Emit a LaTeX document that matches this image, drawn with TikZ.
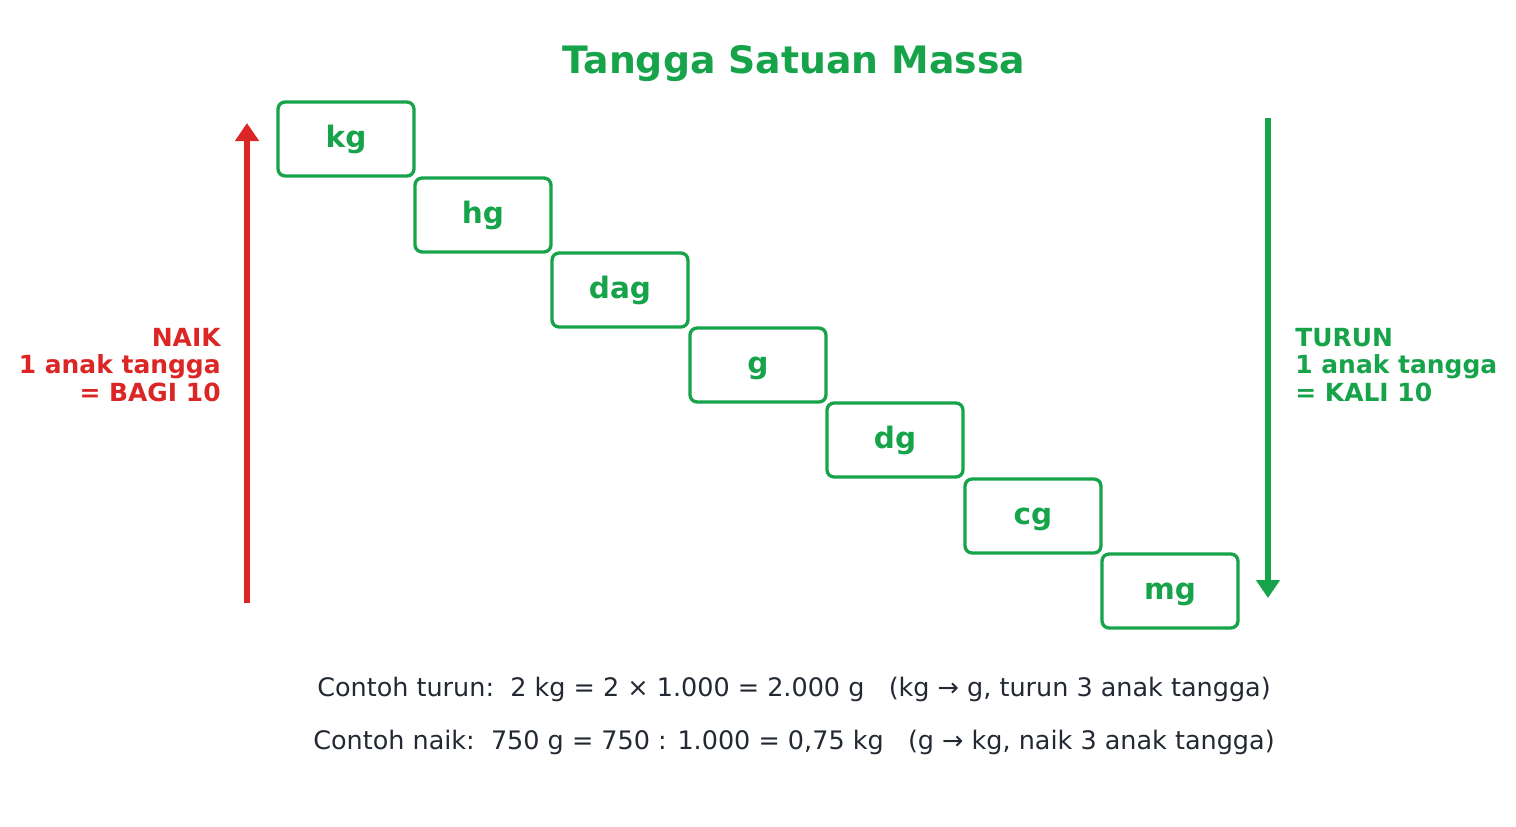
\documentclass[tikz,border=0pt]{standalone}
\usepackage{fontspec}
\setmainfont{DejaVu Sans}
\usepackage{xcolor}
\usetikzlibrary{arrows.meta}
\definecolor{hijau}{HTML}{16A34A}
\definecolor{merah}{HTML}{DC2626}
\definecolor{teks}{HTML}{222933}
\tikzset{
  satuan/.style={draw=hijau, line width=1.9pt, rounded corners=4pt, minimum width=2.72cm, minimum height=1.48cm, text=hijau, text height=12pt, text depth=2.9pt, font=\fontsize{16.8}{19}\selectfont\bfseries},
  panah/.style={line width=3.2pt, -{Triangle[length=0.36cm,width=0.46cm]}},
  sisi/.style={inner sep=0pt, font=\fontsize{14.2}{15.8}\selectfont\bfseries},
  contoh/.style={text=teks, font=\fontsize{14.5}{17}\selectfont},
}
\begin{document}
\begin{tikzpicture}[x=0.02cm,y=-0.02cm]
\useasboundingbox (0,0) rectangle (1516,826);
\node[text=hijau, font=\fontsize{21.5}{25}\selectfont\bfseries] (judul) at (794,64) {Tangga Satuan Massa};
\node[satuan] (kg) at (346,139) {kg};
\node[satuan] (hg) at (483,215) {hg};
\node[satuan] (dag) at (620,290) {dag};
\node[satuan] (g) at (758,365) {g};
\node[satuan] (dg) at (895,440) {dg};
\node[satuan] (cg) at (1033,516) {cg};
\node[satuan] (mg) at (1170,591) {mg};
\coordinate (naikA) at (247,603);
\coordinate (naikB) at (247,123);
\coordinate (turunA) at (1268,118);
\coordinate (turunB) at (1268,598);
\draw[panah, merah] (naikA) -- (naikB);
\draw[panah, hijau] (turunA) -- (turunB);
\node[sisi, anchor=east, align=right, text=merah] (naik) at (221,365) {NAIK\\1 anak tangga\\= BAGI 10};
\node[sisi, anchor=west, align=left, text=hijau] (turun) at (1295,365) {TURUN\\1 anak tangga\\= KALI 10};
\node[contoh] (contoh1) at (794,689) {Contoh turun:\ \ 2 kg = 2 × 1.000 = 2.000 g \ \ (kg → g, turun 3 anak tangga)};
\node[contoh] (contoh2) at (794,742) {Contoh naik:\ \ 750 g = 750 : 1.000 = 0,75 kg \ \ (g → kg, naik 3 anak tangga)};
\end{tikzpicture}
\end{document}
